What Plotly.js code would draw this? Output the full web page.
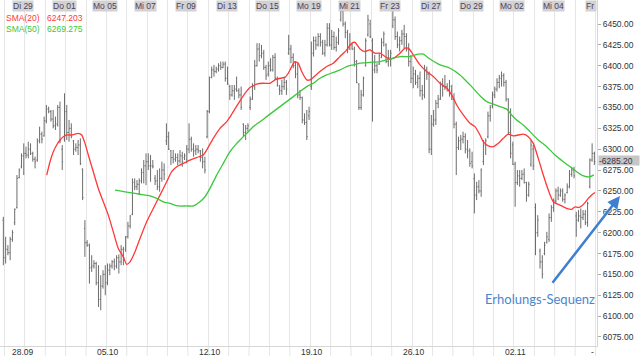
<!DOCTYPE html>
<html><head><meta charset="utf-8">
<script src="https://cdn.plot.ly/plotly-3.0.1.min.js"></script>
<style>html,body{margin:0;padding:0;background:#fff;}#chart{width:640px;height:356px;}</style>
</head><body><div id="chart"></div>
<script>
// bars per trading day (day 0 = Mo 28.09)
const barsPerDay = [9,9,9,9,9,9,9,9,9,9,9,9,9,9,9,9,9,9,9,9,9,9,9,9,9,9,9,9,10];
const openP = [
6215,6170,6180,6176,6192,6212,6230,6266,6279,
6292,6295,6293,6300,6295,6288,6287,6310,6318,
6316,6334,6348,6345,6336,6328,6330,6350,6300,
6312,6345,6320,6325,6310,6300,6302,6305,6276,
6205,6188,6185,6158,6160,6163,6140,6120,6136,
6150,6140,6155,6160,6165,6160,6170,6165,6180,
6180,6195,6208,6222,6260,6255,6258,6262,6272,
6280,6285,6280,6280,6265,6262,6255,6265,6275,
6310,6315,6298,6290,6288,6290,6286,6292,6290,
6288,6300,6312,6300,6298,6300,6298,6290,6285,
6315,6345,6386,6395,6393,6396,6400,6398,6402,
6385,6375,6365,6370,6372,6370,6365,6330,6320,
6325,6350,6360,6375,6400,6420,6412,6415,6398,
6390,6400,6395,6410,6385,6372,6370,6375,6380,
6415,6420,6410,6400,6390,6365,6362,6335,6332,
6340,6375,6415,6430,6425,6435,6428,6415,6425,
6445,6425,6435,6422,6428,6455,6465,6450,6440,
6420,6425,6420,6405,6378,6350,6365,6400,6437,
6450,6430,6395,6400,6402,6410,6428,6425,6405,
6410,6448,6455,6435,6425,6430,6438,6435,6420,
6405,6385,6390,6380,6385,6370,6365,6395,6390,
6300,6330,6335,6355,6360,6378,6375,6375,6372,
6370,6360,6330,6302,6310,6312,6315,6300,6298,
6285,6265,6245,6255,6250,6285,6305,6315,6340,
6352,6365,6372,6380,6385,6388,6380,6360,6320,
6305,6282,6260,6268,6265,6270,6260,6245,6282,
6300,6230,6200,6178,6165,6175,6188,6192,6218,
6230,6238,6250,6245,6250,6240,6248,6255,6270,
6275,6220,6215,6220,6218,6222,6212,6255,6287,6295];
const highP = [
6219,6195,6185,6195,6203,6229,6269,6277,6295,
6307,6303,6309,6307,6297,6291,6313,6327,6321,
6339,6353,6351,6347,6347,6339,6353,6357,6305,
6367,6353,6335,6331,6311,6307,6311,6313,6277,
6215,6191,6187,6173,6167,6165,6161,6149,6155,
6161,6163,6163,6167,6169,6173,6174,6185,6183,
6196,6213,6221,6265,6265,6263,6265,6277,6287,
6295,6295,6293,6287,6269,6275,6277,6285,6283,
6331,6321,6299,6299,6295,6295,6299,6297,6295,
6305,6331,6315,6307,6305,6305,6299,6301,6291,
6347,6387,6399,6401,6399,6403,6405,6405,6405,
6399,6377,6377,6377,6387,6373,6375,6331,6329,
6331,6363,6379,6407,6427,6427,6425,6419,6401,
6405,6409,6413,6415,6387,6377,6383,6387,6383,
6437,6425,6415,6405,6403,6371,6363,6343,6347,
6351,6429,6435,6435,6439,6439,6431,6431,6451,
6451,6443,6441,6435,6445,6471,6467,6453,6443,
6439,6427,6423,6407,6379,6371,6387,6433,6461,
6455,6433,6413,6403,6415,6433,6441,6427,6419,
6419,6471,6459,6441,6435,6443,6449,6439,6427,
6413,6399,6395,6389,6393,6377,6401,6399,6393,
6341,6347,6359,6365,6381,6385,6389,6379,6383,
6377,6367,6333,6315,6317,6321,6319,6311,6301,
6297,6271,6261,6263,6277,6311,6313,6345,6353,
6369,6375,6385,6389,6393,6391,6383,6361,6349,
6309,6285,6275,6275,6275,6277,6261,6261,6311,
6305,6235,6221,6181,6173,6189,6201,6223,6233,
6241,6253,6255,6253,6253,6247,6259,6275,6279,
6279,6225,6227,6229,6227,6227,6237,6289,6307,6297];
const lowP = [
6161,6163,6173,6167,6189,6209,6229,6265,6277,
6269,6289,6289,6293,6285,6277,6285,6307,6307,
6315,6331,6343,6333,6325,6323,6327,6307,6275,
6309,6311,6309,6313,6293,6297,6293,6281,6239,
6171,6183,6139,6153,6157,6137,6111,6107,6133,
6125,6137,6149,6157,6155,6157,6151,6161,6161,
6177,6193,6205,6221,6251,6251,6245,6259,6259,
6257,6275,6261,6277,6257,6251,6249,6261,6263,
6305,6299,6281,6283,6285,6281,6283,6279,6287,
6283,6295,6297,6291,6293,6295,6285,6277,6271,
6313,6343,6385,6387,6391,6393,6395,6397,6381,
6377,6359,6363,6359,6369,6361,6347,6315,6311,
6321,6347,6359,6371,6399,6405,6409,6395,6383,
6387,6393,6393,6383,6375,6365,6365,6371,6365,
6413,6403,6397,6385,6361,6359,6331,6329,6311,
6335,6371,6411,6419,6423,6423,6413,6411,6423,
6423,6419,6419,6417,6425,6453,6447,6433,6415,
6419,6419,6399,6379,6347,6347,6363,6399,6435,
6433,6333,6391,6391,6401,6409,6423,6403,6399,
6399,6445,6431,6421,6417,6425,6421,6417,6399,
6379,6373,6377,6373,6363,6359,6361,6383,6295,
6293,6327,6329,6349,6359,6363,6371,6369,6363,
6359,6325,6269,6299,6299,6307,6295,6289,6279,
6277,6223,6239,6247,6243,6281,6293,6313,6333,
6349,6361,6369,6373,6375,6375,6357,6317,6289,
6281,6231,6257,6255,6263,6259,6237,6243,6279,
6275,6173,6195,6157,6145,6173,6187,6189,6213,
6225,6235,6239,6243,6237,6235,6247,6253,6267,
6265,6195,6213,6205,6215,6209,6207,6253,6285,6281];
const closeP = [
6170,6180,6176,6192,6200,6228,6265,6275,6292,
6295,6293,6300,6295,6288,6285,6310,6318,6312,
6334,6348,6345,6336,6328,6330,6350,6310,6285,
6345,6320,6325,6315,6300,6302,6305,6283,6242,
6188,6185,6158,6160,6163,6140,6120,6136,6150,
6140,6155,6160,6165,6160,6170,6165,6180,6170,
6195,6208,6220,6260,6255,6258,6262,6272,6280,
6285,6280,6280,6279,6262,6255,6265,6275,6270,
6315,6300,6290,6288,6290,6286,6292,6285,6292,
6300,6312,6300,6298,6300,6298,6290,6285,6275,
6345,6386,6395,6393,6396,6400,6398,6402,6385,
6378,6365,6370,6372,6370,6365,6350,6320,6325,
6328,6360,6375,6400,6420,6412,6415,6398,6388,
6400,6395,6410,6385,6376,6370,6375,6380,6372,
6420,6410,6400,6390,6365,6362,6335,6332,6315,
6345,6415,6430,6425,6435,6428,6415,6425,6445,
6425,6435,6422,6428,6442,6465,6450,6440,6420,
6425,6420,6405,6380,6350,6365,6385,6430,6455,
6435,6395,6400,6395,6412,6428,6438,6405,6410,
6415,6455,6435,6425,6430,6438,6435,6420,6405,
6385,6390,6380,6385,6370,6365,6395,6390,6300,
6330,6335,6355,6360,6378,6375,6375,6372,6375,
6360,6330,6302,6310,6312,6315,6300,6298,6283,
6280,6245,6255,6250,6275,6305,6310,6340,6350,
6365,6372,6380,6385,6388,6380,6360,6320,6295,
6282,6260,6268,6265,6270,6260,6245,6258,6305,
6280,6200,6215,6165,6150,6185,6195,6218,6230,
6238,6250,6245,6250,6240,6245,6255,6270,6275,
6268,6215,6220,6218,6222,6212,6235,6287,6295,6285.2];

// SMA lines (x in trading days)
const sma20X = [2.071,2.233,2.395,2.561,2.723,2.885,3.052,3.297,3.459,3.621,3.788,3.950,4.112,4.357,4.603,4.848,5.093,5.339,5.584,5.829,5.996,6.158,6.403,6.649,6.977,7.301,7.630,7.959,8.204,8.449,8.773,9.102,9.431,9.755,9.921,10.245,10.574,10.903,11.227,11.556,11.801,12.046,12.375,12.699,13.027,13.273,13.518,13.763,13.925,14.092,14.254,14.416,14.583,14.828,14.990,15.152,15.481,15.810,16.133,16.462,16.791,17.036,17.198,17.444,17.689,17.934,18.180,18.425,18.670,18.916,19.161,19.406,19.652,19.814,20.059,20.388,20.716,21.040,21.369,21.698,21.943,22.188,22.512,22.841,23.086,23.331,23.494,23.739,23.984,24.229,24.475,24.720,24.965,25.211,25.456,25.701,25.947,26.192,26.438,26.683,26.928,27.257,27.586,27.831,27.993,28.155,28.322,28.484,28.646,28.813,28.975];
const sma20Y = [6269,6285,6297,6305,6311,6315,6317,6317,6318,6319,6317,6307,6293,6273,6253,6237,6221,6201,6181,6171,6162,6165,6177,6193,6213,6229,6245,6261,6273,6279,6283,6287,6290,6293,6299,6313,6325,6333,6345,6358,6367,6374,6378,6379,6379,6383,6385,6386,6391,6399,6405,6403,6393,6383,6383,6386,6393,6399,6403,6411,6419,6427,6428,6420,6417,6419,6415,6415,6411,6408,6410,6415,6421,6421,6413,6401,6393,6387,6379,6373,6365,6353,6341,6331,6327,6317,6309,6304,6303,6307,6313,6318,6316,6317,6318,6315,6307,6289,6269,6251,6237,6233,6229,6228,6231,6230,6232,6236,6241,6245,6248];
const sma50X = [5.422,5.667,6.158,6.649,7.140,7.468,7.792,8.121,8.528,8.940,9.264,9.593,9.838,10.083,10.412,10.736,11.065,11.394,11.556,11.884,12.208,12.537,12.866,13.189,13.518,13.847,14.171,14.500,14.828,15.152,15.481,15.810,16.133,16.462,16.791,17.115,17.444,17.934,18.425,18.916,19.406,19.897,20.304,20.550,20.878,21.369,21.860,22.351,22.841,23.331,23.660,23.984,24.313,24.642,24.887,25.132,25.456,25.785,26.192,26.604,27.012,27.419,27.748,28.077,28.322,28.567,28.729,28.921];
const sma50Y = [6251,6250,6248,6246,6244,6241,6237,6235,6232,6232,6232,6237,6243,6253,6269,6283,6297,6307,6311,6319,6327,6333,6339,6345,6351,6357,6363,6369,6375,6379,6385,6389,6392,6395,6399,6401,6403,6404,6405,6408,6411,6411,6414,6414,6408,6401,6397,6389,6377,6364,6357,6354,6351,6348,6341,6335,6329,6321,6311,6303,6293,6285,6279,6273,6269,6267,6267,6269.3];

const topLabelDays = [1,3,5,7,9,11,13,15,17,19,21,23,25,27];
const topLabels = ['Di 29','Do 01','Mo 05','Mi 07','Fr 09','Di 13','Do 15','Mo 19','Mi 21','Fr 23','Di 27','Do 29','Mo 02','Mi 04'];
const bottomLabelDays = [0,5,10,15,20,25];
const bottomLabels = ['28.09','05.10','12.10','19.10','26.10','02.11'];
const yTicks = [6075,6100,6125,6150,6175,6200,6225,6250,6275,6300,6325,6350,6375,6400,6425,6450];
const lastPrice = 6285.20;
const sma20Label = 'SMA(20)', sma20Last = '6247.203';
const sma50Label = 'SMA(50)', sma50Last = '6269.275';
const noteText = 'Erholungs-Sequenz';

const barX = [];
barsPerDay.forEach((n, d) => { for (let k = 0; k < n; k++) barX.push(d + (k - 0.5) / 9); });
const dayLines = [];
for (let d = 0; d <= barsPerDay.length; d++) dayLines.push(d);

const FONT = 'Liberation Sans, Arial, sans-serif';
const W = 597, H = 346;

const data = [
  {type:'ohlc', x:barX, open:openP, high:highP, low:lowP, close:closeP,
   increasing:{line:{color:'#6c6c6c', width:1}}, decreasing:{line:{color:'#6c6c6c', width:1}},
   tickwidth:0.4, hoverinfo:'skip', showlegend:false},
  {type:'scatter', mode:'lines', x:sma20X, y:sma20Y, line:{color:'#ff3838', width:1.3, shape:'spline', smoothing:0.6}, hoverinfo:'skip', showlegend:false},
  {type:'scatter', mode:'lines', x:sma50X, y:sma50Y, line:{color:'#3cc83c', width:1.3, shape:'spline', smoothing:0.6}, hoverinfo:'skip', showlegend:false}
];

const annotations = [];
// legend
annotations.push({xref:'paper', yref:'paper', x:4/W, y:1-18.5/H, xanchor:'left', yanchor:'middle', text:sma20Label, showarrow:false, font:{family:FONT, size:8.5, color:'#ff3838'}});
annotations.push({xref:'paper', yref:'paper', x:45/W, y:1-18.5/H, xanchor:'left', yanchor:'middle', text:sma20Last, showarrow:false, font:{family:FONT, size:8.5, color:'#ff3838'}});
annotations.push({xref:'paper', yref:'paper', x:4/W, y:1-29/H, xanchor:'left', yanchor:'middle', text:sma50Label, showarrow:false, font:{family:FONT, size:8.5, color:'#3cc83c'}});
annotations.push({xref:'paper', yref:'paper', x:45/W, y:1-29/H, xanchor:'left', yanchor:'middle', text:sma50Last, showarrow:false, font:{family:FONT, size:8.5, color:'#3cc83c'}});
// top day labels
topLabelDays.forEach((d, i) => {
  annotations.push({xref:'x', yref:'paper', x:d, y:1, xanchor:'center', yanchor:'top', xshift:-1.5, text:topLabels[i], showarrow:false,
    bgcolor:'#d2d2d2', borderpad:0, font:{family:FONT, size:8.5, color:'#4e3d5e'}});
});
annotations.push({xref:'paper', yref:'paper', x:1, y:1, xanchor:'right', yanchor:'top', text:'Fr ', showarrow:false,
  bgcolor:'#d2d2d2', borderpad:0, font:{family:FONT, size:8.5, color:'#4e3d5e'}});
// bottom week labels
bottomLabelDays.forEach((d, i) => {
  const a = {xref:'x', yref:'paper', x:d, y:0, xanchor:'center', yanchor:'top', xshift:1.5, yshift:1, text:bottomLabels[i], showarrow:false,
    font:{family:FONT, size:8.5, color:'#333'}};
  if (i === 0) { a.xref = 'paper'; a.x = 10/W; a.xanchor = 'left'; a.xshift = 0; }
  annotations.push(a);
});
annotations.push({xref:'paper', yref:'paper', x:592/W, y:0, xanchor:'center', yanchor:'top', yshift:1, text:'-', showarrow:false, font:{family:FONT, size:8.5, color:'#333'}});
// last price marker
annotations.push({xref:'paper', yref:'y', x:1, y:lastPrice, xanchor:'left', yanchor:'middle', xshift:1, yshift:1, text:'-' + lastPrice.toFixed(2), showarrow:false,
  bgcolor:'#c6c6c6', borderpad:0, width:40, height:9, align:'left', font:{family:FONT, size:8.5, color:'#3a2f45'}});
// note + arrow
annotations.push({xref:'paper', yref:'paper', x:540/W, y:1-299/H, xanchor:'center', yanchor:'middle', text:noteText, showarrow:false,
  font:{family:'Lato, Open Sans, sans-serif', size:13, color:'#4a86d0'}});
annotations.push({xref:'paper', yref:'paper', x:620/W, y:1-196/H, ax:-70, ay:90, text:' ', showarrow:true,
  arrowhead:2, arrowsize:1, arrowwidth:2.5, arrowcolor:'#3f7fd0', standoff:0, startstandoff:0});

const shapes = dayLines.map(d => ({type:'line', xref:'x', yref:'paper', x0:d, x1:d, y0:-0.04, y1:0, line:{color:'#e6e6e6', width:1}, layer:'below'}));

const layout = {
  width:640, height:356,
  margin:{l:0, r:43, t:0, b:10, pad:0},
  paper_bgcolor:'#ffffff', plot_bgcolor:'#ffffff',
  font:{family:FONT, size:8.5, color:'#333'},
  showlegend:false,
  xaxis:{range:[-0.2208, 29.073], tickmode:'array', tickvals:dayLines, showticklabels:false, ticks:'',
    showgrid:true, gridcolor:'#e6e6e6', gridwidth:1, zeroline:false, showline:true, linecolor:'#d6d6d6',
    rangeslider:{visible:false}, fixedrange:true},
  yaxis:{side:'right', range:[6064.2, 6478.75], tickmode:'array', tickvals:yTicks, ticktext:yTicks.map(v => v.toFixed(2)),
    showgrid:false, zeroline:false, showline:true, linecolor:'#d6d6d6', ticks:'outside', ticklen:3, tickcolor:'#aaaaaa',
    tickfont:{family:FONT, size:8.5, color:'#333'}, fixedrange:true},
  annotations:annotations,
  shapes:shapes
};

Plotly.newPlot('chart', data, layout, {staticPlot:true, displayModeBar:false});
</script>
</body></html>
